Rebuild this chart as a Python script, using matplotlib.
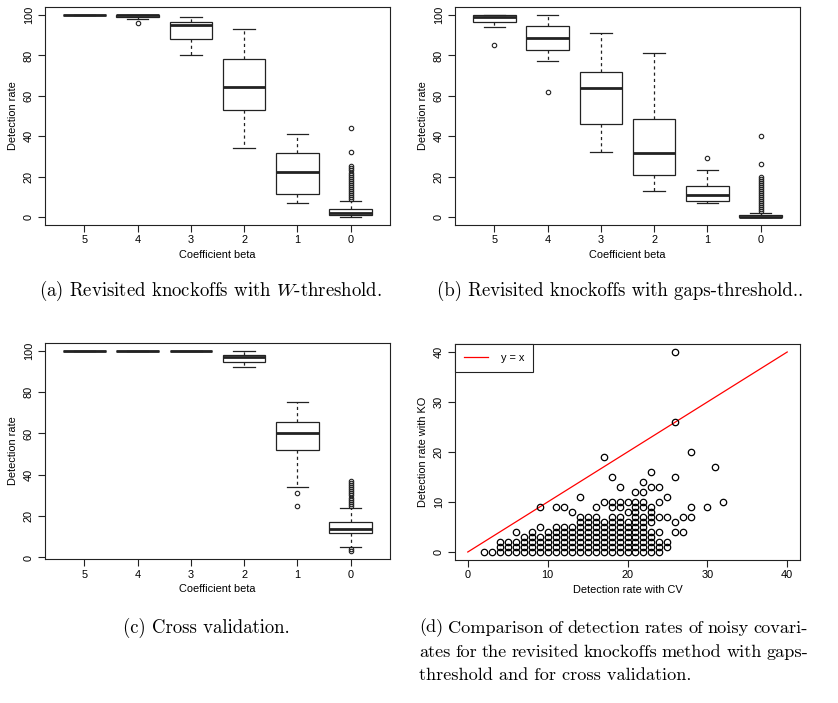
import matplotlib
matplotlib.use('Agg')
import matplotlib.pyplot as plt
from matplotlib.lines import Line2D

plt.rcParams['font.family'] = ['Liberation Sans', 'DejaVu Sans']
plt.rcParams['mathtext.fontset'] = 'cm'

beta_labels = ['5', '4', '3', '2', '1', '0']

# (a) revisited knockoffs, W-threshold
a_whislo = [100, 98, 80, 34, 7, 0]
a_q1 = [100, 99, 88, 53, 11.5, 1]
a_med = [100, 100, 95, 64.5, 22.5, 2]
a_q3 = [100, 100, 96.5, 78, 31.5, 4]
a_whishi = [100, 100, 99, 93, 41, 8]
a_fliers = [[], [96], [], [], [],
            [9, 10, 11, 12, 13, 14, 15, 16, 17, 18, 19, 20, 21, 22, 23, 24, 25, 32, 44]]

# (b) revisited knockoffs, gaps-threshold
b_whislo = [94, 77, 32, 13, 7, 0]
b_q1 = [96.5, 82.5, 46, 21, 8, 0]
b_med = [99, 88.5, 64, 31.5, 11, 0]
b_q3 = [100, 94.5, 72, 48.5, 15.5, 1]
b_whishi = [100, 100, 91, 81, 23, 2]
b_fliers = [[85], [62], [], [], [29],
            [3, 4, 5, 6, 7, 8, 9, 10, 11, 12, 13, 14, 15, 16, 17, 18, 19, 20, 26, 40]]

# (c) cross validation
c_whislo = [100, 100, 100, 92, 34, 5]
c_q1 = [100, 100, 100, 94.5, 52, 12]
c_med = [100, 100, 100, 97, 60, 14]
c_q3 = [100, 100, 100, 98, 65.5, 17]
c_whishi = [100, 100, 100, 100, 75, 24]
c_fliers = [[], [], [], [], [25, 31],
            [3, 4, 25, 26, 27, 28, 29, 30, 31, 32, 33, 34, 35, 36, 37]]

# (d) noisy covariates: CV rate -> top of the dense 0..n stack of KO rates, plus loose points
cv_stack = [2, 3, 4, 5, 6, 7, 8, 9, 10, 11, 12, 13, 14, 15, 16, 17, 18, 19, 20, 21, 22, 23, 24]
ko_stack_top = [0, 0, 2, 2, 2, 3, 4, 3, 4, 5, 5, 5, 7, 7, 7, 6, 7, 7, 6, 9, 7, 4, 2]
ko_extra = {6: [4], 9: [5, 9], 11: [9], 12: [9], 13: [8], 14: [11], 16: [9],
            17: [10, 19], 18: [9, 10, 15], 19: [9, 10, 13], 20: [8, 10], 21: [10, 12],
            22: [9, 10, 12, 14], 23: [6, 7, 8, 9, 13, 16], 24: [4, 7, 10, 13],
            25: [1, 2, 7, 11], 26: [4, 6, 15, 26, 40], 27: [4, 7], 28: [7, 9, 20],
            30: [9], 31: [17], 32: [10]}

cv_pts, ko_pts = [], []
for cv, top in zip(cv_stack, ko_stack_top):
    for k in range(top + 1):
        cv_pts.append(cv)
        ko_pts.append(k)
for cv, kos in ko_extra.items():
    for k in kos:
        cv_pts.append(cv)
        ko_pts.append(k)

fs = 7.9
W, H = 838, 703
fig = plt.figure(figsize=(W / 100, H / 100), dpi=100)


def px_axes(x0, y0, x1, y1):
    return fig.add_axes([x0 / W, 1 - y1 / H, (x1 - x0) / W, (y1 - y0) / H])


def style(ax, xlabel, ylabel):
    for s in ax.spines.values():
        s.set_linewidth(0.8)
        s.set_color('#222222')
    ax.tick_params(direction='out', length=5, width=0.8, labelsize=fs, pad=2.5, color='#222222')
    ax.tick_params(axis='y', labelrotation=90, pad=3)
    for t in ax.get_yticklabels():
        t.set_va('center')
    ax.set_xlabel(xlabel, fontsize=fs, labelpad=3)
    ax.set_ylabel(ylabel, fontsize=fs, labelpad=4)


def boxes(ax, whislo, q1, med, q3, whishi, fliers, ylim):
    stats = []
    for i in range(len(med)):
        stats.append(dict(whislo=whislo[i], q1=q1[i], med=med[i], q3=q3[i],
                          whishi=whishi[i], fliers=fliers[i]))
    ax.bxp(stats, positions=range(1, 7), widths=0.8, capwidths=0.4, patch_artist=True,
           boxprops=dict(facecolor='white', edgecolor='#222222', linewidth=0.9),
           medianprops=dict(color='#222222', linewidth=2.0, solid_capstyle='butt'),
           whiskerprops=dict(color='#222222', linewidth=0.9, linestyle=(0, (2.5, 2.5))),
           capprops=dict(color='#222222', linewidth=0.9),
           flierprops=dict(marker='o', markersize=3.2, markerfacecolor='none',
                           markeredgecolor='#222222', markeredgewidth=0.8))
    ax.set_xlim(0.26, 6.74)
    ax.set_ylim(*ylim)
    ax.set_xticks(range(1, 7))
    ax.set_xticklabels(beta_labels)
    ax.set_yticks([0, 20, 40, 60, 80, 100])
    style(ax, 'Coefficient beta', 'Detection rate')


ax_a = px_axes(45, 7, 390, 225)
boxes(ax_a, a_whislo, a_q1, a_med, a_q3, a_whishi, a_fliers, (-4, 104))

ax_b = px_axes(455, 7, 800, 225)
boxes(ax_b, b_whislo, b_q1, b_med, b_q3, b_whishi, b_fliers, (-4, 104))

ax_c = px_axes(45, 342.7, 390, 559.3)
boxes(ax_c, c_whislo, c_q1, c_med, c_q3, c_whishi, c_fliers, (-0.88, 103.88))

ax_d = px_axes(455, 344, 800, 560)
ax_d.plot([0, 40], [0, 40], color='red', linewidth=0.9)
ax_d.plot(cv_pts, ko_pts, linestyle='none', marker='o', markersize=4.6,
          markerfacecolor='none', markeredgecolor='black', markeredgewidth=0.9)
ax_d.set_xlim(-1.6, 41.6)
ax_d.set_ylim(-1.6, 41.6)
ax_d.set_xticks([0, 10, 20, 30, 40])
ax_d.set_yticks([0, 10, 20, 30, 40])
style(ax_d, 'Detection rate with CV', 'Detection rate with KO')
leg = ax_d.legend(handles=[Line2D([], [], color='red', linewidth=0.9)], labels=['y = x'],
                  loc='upper left', borderaxespad=0, fancybox=False, framealpha=1,
                  edgecolor='#222222', fontsize=fs, handlelength=2.2, handletextpad=1.2,
                  borderpad=0.8)
leg.get_frame().set_linewidth(0.8)

cap = dict(fontsize=13.5, family='cmr10', va='center')
fig.text(210 / W, 1 - 291 / H, '(a) Revisited knockoffs with $W$-threshold.', ha='center', **cap)
fig.text(620 / W, 1 - 291 / H, '(b) Revisited knockoffs with gaps-threshold..', ha='center', **cap)
fig.text(206 / W, 1 - 628 / H, '(c) Cross validation.', ha='center', **cap)

# caption (d): justified paragraph, last line flush left
d_lines = ['(d) Comparison of detection rates of noisy covari-',
           'ates for the revisited knockoffs method with gaps-',
           'threshold and for cross validation.']
d_y = [628, 652, 675]
d_left, d_right = 419, 808
d_cap = dict(fontsize=13.1, family='cmr10', va='center', ha='left')
renderer = fig.canvas.get_renderer()
for n, (line, y) in enumerate(zip(d_lines, d_y)):
    words = line.split(' ')
    if n == len(d_lines) - 1:
        fig.text(d_left / W, 1 - y / H, line, **d_cap)
        continue
    arts = [fig.text(0, 1 - y / H, w, **d_cap) for w in words]
    widths = [a.get_window_extent(renderer).width for a in arts]
    gap = (d_right - d_left - sum(widths)) / (len(words) - 1)
    x = d_left
    for a, w in zip(arts, widths):
        a.set_x(x / W)
        x += w + gap

fig.savefig('out.png', dpi=100)
